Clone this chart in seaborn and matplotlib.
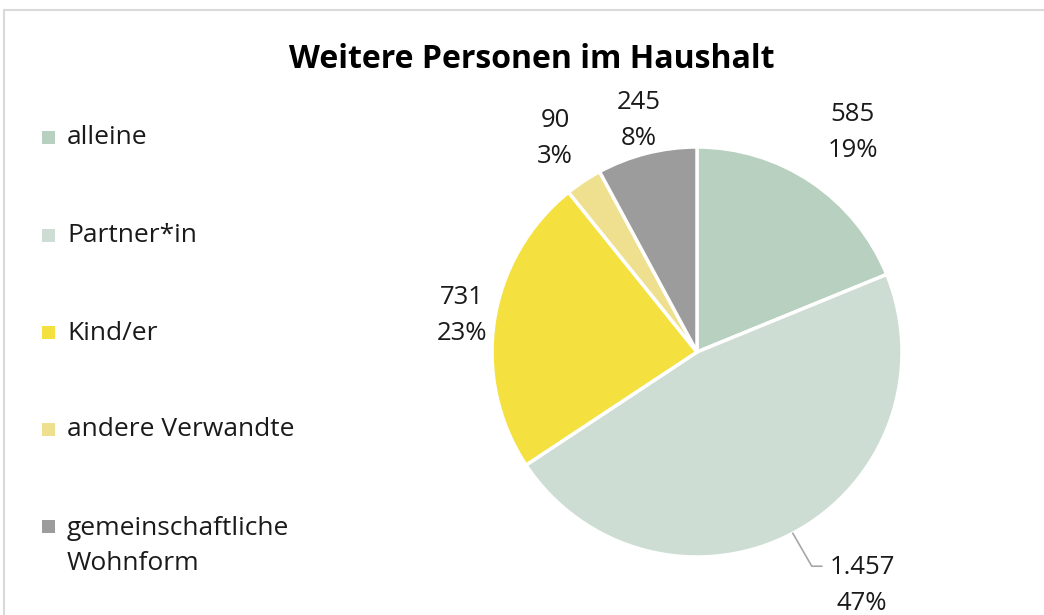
import numpy as np
import matplotlib
matplotlib.use("Agg")
import matplotlib.pyplot as plt
import seaborn as sns
from matplotlib.patches import Rectangle

categories = ["alleine", "Partner*in", "Kind/er", "andere Verwandte", "gemeinschaftliche\nWohnform"]
values = [585, 1457, 731, 90, 245]
value_labels = ["585", "1.457", "731", "90", "245"]
pct_labels = ["19%", "47%", "23%", "3%", "8%"]
colors = ["#B8D0BF", "#CEDDD3", "#F4E13F", "#EEE08E", "#9C9C9C"]
label_dist = [1.29, 1.35, 1.16, 1.25, 1.165]
title = "Weitere Personen im Haushalt"

sns.set_theme(style="white")
plt.rcParams["font.family"] = ["Open Sans", "DejaVu Sans"]

W, H = 1044, 615
fig = plt.figure(figsize=(W / 100, H / 100), dpi=100)

# chart border (cropped at right/bottom)
fig.patches.append(Rectangle((4 / W, -0.1), 1.2, 1 - 10 / H + 0.1, transform=fig.transFigure,
                             fill=False, edgecolor="#D9D9D9", linewidth=1.5))

cx, cy, R = 697, 352, 205
ax = fig.add_axes([(cx - R) / W, 1 - (cy + R) / H, 2 * R / W, 2 * R / H])
wedges, _ = ax.pie(values, colors=colors, startangle=90, counterclock=False,
                   wedgeprops=dict(edgecolor="white", linewidth=2.5), radius=1.0)
ax.set_xlim(-1, 1)
ax.set_ylim(-1, 1)
ax.set_aspect("equal")
ax.axis("off")

for i, w in enumerate(wedges):
    mid = np.deg2rad((w.theta1 + w.theta2) / 2)
    d = label_dist[i]
    x, y = d * np.cos(mid), d * np.sin(mid)
    if i == 0:
        x += 0.04
    if i == 1:
        ex, ey = np.cos(mid), np.sin(mid)
        ax.plot([ex, 0.56, 0.61], [ey, -1.045, -1.045], color="#A6A6A6", linewidth=1.2,
                clip_on=False, solid_joinstyle="miter")
        x, y = 0.805, -1.14
    ax.text(x, y, f"{value_labels[i]}\n{pct_labels[i]}", ha="center", va="center",
            fontsize=18.5, color="#1a1a1a", linespacing=1.55, clip_on=False)

fig.text(532 / W, 1 - 59 / H, title, ha="center", va="center", fontsize=23, fontweight="bold", color="black")

# legend
leg_y = [138, 236, 333, 430, 546]
for i, lab in enumerate(categories):
    yy = leg_y[i]
    top_line_y = yy if "\n" not in lab else 527
    fig.patches.append(Rectangle((42 / W, 1 - (top_line_y + 6) / H), 13 / W, 13 / H,
                                 transform=fig.transFigure, facecolor=colors[i], edgecolor="none"))
    fig.text(67 / W, 1 - yy / H, lab, ha="left", va="center", fontsize=19, color="#1a1a1a", linespacing=1.55)

fig.savefig("out.png", dpi=100)
